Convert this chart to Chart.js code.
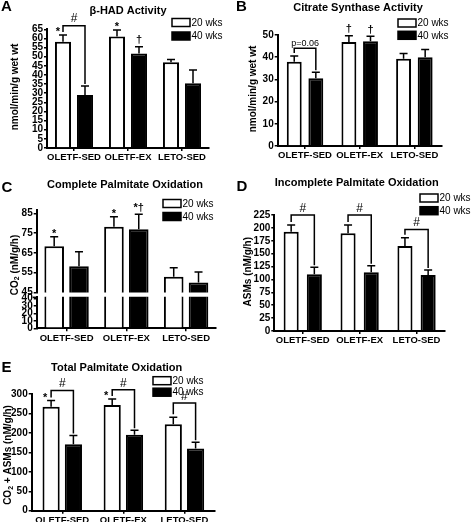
<!DOCTYPE html>
<html lang="en">
<head>
  <meta charset="UTF-8">
  <title>Palmitate oxidation and enzyme activity</title>
  <script src="https://cdn.jsdelivr.net/npm/chart.js@4"></script>
  <style>
    html, body { margin: 0; padding: 0; background: #fff; }
    #fig { position: relative; width: 471px; height: 522px; overflow: hidden; background: #fff; }
    #fig canvas { position: absolute; }
  </style>
</head>
<body>
<div id="fig">
  <canvas id="chartA" width="235" height="175" style="left:0px;top:0px"></canvas>
  <canvas id="chartB" width="236" height="175" style="left:235px;top:0px"></canvas>
  <canvas id="chartC" width="235" height="180" style="left:0px;top:175px"></canvas>
  <canvas id="chartC2" width="235" height="60" style="left:0px;top:285px"></canvas>
  <canvas id="chartD" width="236" height="180" style="left:235px;top:175px"></canvas>
  <canvas id="chartE" width="235" height="167" style="left:0px;top:355px"></canvas>
</div>

<script>
  const categories = ['OLETF-SED', 'OLETF-EX', 'LETO-SED'];
  const seriesNames = ['20 wks', '40 wks'];

  // A - beta-HAD activity (nmol/min/g wet wt), mean and SEM
  const hadMean20 = [58.2, 61, 47];
  const hadSem20 = [3.7, 3.6, 1.5];
  const hadMean40 = [29, 51.8, 35.4];
  const hadSem40 = [5, 3.7, 7.3];
  const hadTicks = [0, 5, 10, 15, 20, 25, 30, 35, 40, 45, 50, 55, 60, 65];

  // B - citrate synthase activity
  const csMean20 = [38, 46.8, 39.3];
  const csSem20 = [2.5, 2.9, 2.4];
  const csMean40 = [30.5, 47.2, 40];
  const csSem40 = [2.7, 2.2, 3.5];
  const csTicks = [0, 10, 20, 30, 40, 50];

  // C - complete palmitate oxidation, CO2 (nM/g/h), broken axis
  const co2Mean20 = [68.4, 78.2, 52.9];
  const co2Sem20 = [4.8, 5.1, 4.6];
  const co2Mean40 = [58.3, 76.9, 50];
  const co2Sem40 = [7.3, 7.6, 5.4];
  const co2TicksUpper = [45, 55, 65, 75, 85];
  const co2TicksLower = [0, 10, 20, 30, 40];

  // D - incomplete palmitate oxidation, ASMs (nM/g/h)
  const asmMean20 = [192.6, 189.5, 165];
  const asmSem20 = [13, 16, 16];
  const asmMean40 = [110, 114, 108.6];
  const asmSem40 = [13.5, 12.7, 9.7];
  const asmTicks = [0, 25, 50, 75, 100, 125, 150, 175, 200, 225];

  // E - total palmitate oxidation, CO2 + ASMs (nM/g/h)
  const totMean20 = [267, 272, 222];
  const totSem20 = [16, 15, 18];
  const totMean40 = [171, 195, 160];
  const totSem40 = [22, 12, 16];
  const totTicks = [0, 50, 100, 150, 200, 250, 300];

  const FONT = 'Liberation Sans, Arial, Helvetica, sans-serif';
  const extras = {};

  function drawYTitle(ctx, parts, x, y) {
    ctx.save();
    ctx.translate(x, y);
    ctx.rotate(-Math.PI / 2);
    ctx.textBaseline = 'middle';
    ctx.textAlign = 'left';
    let total = 0;
    parts.forEach(p => {
      ctx.font = 'bold ' + (p[1] ? 7 : 10) + 'px ' + FONT;
      total += ctx.measureText(p[0]).width;
    });
    let cx = -total / 2;
    parts.forEach(p => {
      ctx.font = 'bold ' + (p[1] ? 7 : 10) + 'px ' + FONT;
      ctx.fillText(p[0], cx, p[1] ? 2.5 : 0);
      cx += ctx.measureText(p[0]).width;
    });
    ctx.restore();
  }

  const extrasPlugin = {
    id: 'extras',
    afterDatasetsDraw(chart) {
      const ex = extras[chart.canvas.id];
      if (!ex.sem) return;
      const ctx = chart.ctx, y = chart.scales.y;
      ctx.save();
      ctx.strokeStyle = '#000';
      ctx.lineWidth = 1.5;
      ex.sem.forEach((sem, i) => {
        const means = chart.data.datasets[i].data;
        chart.getDatasetMeta(i).data.forEach((bar, j) => {
          const top = y.getPixelForValue(means[j] + sem[j]);
          ctx.beginPath();
          ctx.moveTo(bar.x, bar.y);
          ctx.lineTo(bar.x, top);
          ctx.moveTo(bar.x - 4, top);
          ctx.lineTo(bar.x + 4, top);
          ctx.stroke();
        });
      });
      ctx.restore();
    },
    afterDraw(chart) {
      const ex = extras[chart.canvas.id];
      const ctx = chart.ctx, y = chart.scales.y;
      ctx.save();
      ctx.fillStyle = '#000';
      ctx.strokeStyle = '#000';

      if (ex.title) {
        ctx.font = 'bold 11px ' + FONT;
        ctx.textAlign = 'center';
        ctx.textBaseline = 'middle';
        ctx.fillText(ex.title, ex.titlePos[0], ex.titlePos[1]);
      }
      if (ex.letter) {
        ctx.font = 'bold 15px ' + FONT;
        ctx.textAlign = 'left';
        ctx.textBaseline = 'middle';
        ctx.fillText(ex.letter, ex.letterPos[0], ex.letterPos[1]);
      }
      if (ex.yTitle) {
        drawYTitle(ctx, ex.yTitle, ex.yTitlePos[0], ex.yTitlePos[1]);
      }
      if (ex.legendPos) {
        const [lx, ly, gap] = ex.legendPos;
        chart.data.datasets.forEach((ds, i) => {
          const by = ly + i * gap;
          ctx.fillStyle = ds.backgroundColor;
          ctx.fillRect(lx, by, 18, 8);
          ctx.lineWidth = 1.5;
          ctx.strokeRect(lx, by, 18, 8);
          ctx.fillStyle = '#000';
          ctx.font = '10px ' + FONT;
          ctx.textAlign = 'left';
          ctx.textBaseline = 'middle';
          ctx.fillText(ds.label, lx + 19.5, by + 4.5);
        });
      }

      const errTop = (i, j) => {
        const d = chart.data.datasets[i].data[j];
        return y.getPixelForValue(d + ex.sem[i][j]);
      };

      (ex.brackets || []).forEach(b => {
        const x1 = chart.getDatasetMeta(0).data[b.cat].x;
        const x2 = chart.getDatasetMeta(1).data[b.cat].x;
        const yt = y.getPixelForValue(b.top);
        ctx.lineWidth = 1.5;
        ctx.beginPath();
        ctx.moveTo(x1, errTop(0, b.cat) - 3);
        ctx.lineTo(x1, yt);
        ctx.lineTo(x2, yt);
        ctx.lineTo(x2, errTop(1, b.cat) - 2);
        ctx.stroke();
        ctx.font = (b.size || 12) + 'px ' + FONT;
        ctx.textAlign = 'center';
        ctx.textBaseline = 'bottom';
        ctx.fillText(b.text, (x1 + x2) / 2, yt - 0.5);
      });

      (ex.marks || []).forEach(m => {
        const bar = chart.getDatasetMeta(m.series).data[m.cat];
        const base = errTop(m.series, m.cat);
        ctx.font = 'bold 11px ' + FONT;
        ctx.textAlign = 'center';
        ctx.textBaseline = 'alphabetic';
        ctx.fillText(m.text, bar.x + (m.dx || 0), base - (m.text.indexOf('†') >= 0 ? 3.5 : 0));
      });

      if (ex.breakCap) {
        const a = chart.chartArea;
        ctx.lineWidth = 1.5;
        ctx.beginPath();
        ctx.moveTo(a.left - 4, a.top + 0.5);
        ctx.lineTo(a.left + 1, a.top + 0.5);
        ctx.stroke();
      }
      ctx.restore();
    }
  };

  function makeChart(id, cfg) {
    extras[id] = cfg;
    const tickFont = { family: FONT, size: 10, weight: 'bold' };
    return new Chart(document.getElementById(id), {
      type: 'bar',
      data: {
        labels: categories,
        datasets: [
          { label: seriesNames[0], data: cfg.mean20, backgroundColor: '#fff', borderColor: '#000', borderWidth: 2, clip: 0 },
          { label: seriesNames[1], data: cfg.mean40, backgroundColor: '#000', borderColor: '#000', borderWidth: 2, clip: 0 }
        ]
      },
      options: {
        responsive: false,
        animation: false,
        events: [],
        datasets: { bar: { categoryPercentage: cfg.catPct, barPercentage: cfg.barPct } },
        layout: { padding: { left: 0, top: cfg.pad[0], right: cfg.pad[1], bottom: cfg.pad[2] } },
        plugins: { legend: { display: false }, tooltip: { enabled: false }, title: { display: false } },
        scales: {
          x: {
            display: cfg.showX,
            grid: { offset: false, drawOnChartArea: false, color: '#000', lineWidth: 1.5, tickLength: 3 },
            border: { color: '#000', width: 2 },
            ticks: { color: '#000', font: { family: FONT, size: 9.5, weight: 'bold' }, padding: 1, maxRotation: 0, autoSkip: false },
            afterFit: s => { s.height = cfg.xHeight; }
          },
          y: {
            min: cfg.min,
            max: cfg.max,
            grid: { drawOnChartArea: false, color: '#000', lineWidth: 1.5, tickLength: 3 },
            border: { color: '#000', width: 2 },
            ticks: { color: '#000', font: tickFont, padding: 1, autoSkip: false },
            afterBuildTicks: s => { s.ticks = cfg.ticks.map(v => ({ value: v })); },
            afterFit: s => { s.width = cfg.yWidth; }
          }
        }
      },
      plugins: [extrasPlugin]
    });
  }

  makeChart('chartA', {
    mean20: hadMean20, mean40: hadMean40, sem: [hadSem20, hadSem40],
    min: 0, max: 65, ticks: hadTicks,
    yWidth: 47, pad: [29.3, 26, 0], xHeight: 27, showX: true,
    catPct: 0.815, barPct: 0.73,
    title: 'β-HAD Activity', titlePos: [128, 11],
    letter: 'A', letterPos: [1, 7],
    yTitle: [['nmol/min/g wet wt', false]], yTitlePos: [15, 87],
    legendPos: [172, 18.5, 13.5],
    brackets: [{ cat: 0, top: 67, text: '#' }],
    marks: [{ series: 0, cat: 0, text: '*', dx: -5 }, { series: 0, cat: 1, text: '*' }, { series: 1, cat: 1, text: '†' }]
  });

  makeChart('chartB', {
    mean20: csMean20, mean40: csMean40, sem: [csSem20, csSem40],
    min: 0, max: 50, ticks: csTicks,
    yWidth: 42.7, pad: [35, 29.3, 0], xHeight: 29, showX: true,
    catPct: 0.79, barPct: 0.69,
    title: 'Citrate Synthase Activity', titlePos: [123, 7.5],
    letter: 'B', letterPos: [1, 7],
    yTitle: [['nmol/min/g wet wt', false]], yTitlePos: [18.3, 89],
    legendPos: [163, 19, 12.3],
    brackets: [{ cat: 0, top: 44, text: 'p=0.06', size: 9 }],
    marks: [{ series: 0, cat: 1, text: '†' }, { series: 1, cat: 1, text: '†' }]
  });

  makeChart('chartC', {
    mean20: co2Mean20, mean40: co2Mean40, sem: [co2Sem20, co2Sem40],
    min: 45, max: 86.5, ticks: co2TicksUpper,
    yWidth: 36.7, pad: [35.3, 19, 62.5], xHeight: 0, showX: false,
    catPct: 0.83, barPct: 0.79,
    title: 'Complete Palmitate Oxidation', titlePos: [125, 10],
    letter: 'C', letterPos: [1.5, 13],
    yTitle: [['CO', false], ['2', true], [' (nM/g/h)', false]], yTitlePos: [15, 90],
    legendPos: [163, 24.5, 13],
    marks: [{ series: 0, cat: 0, text: '*' }, { series: 0, cat: 1, text: '*' }, { series: 1, cat: 1, text: '*†' }]
  });

  makeChart('chartC2', {
    mean20: co2Mean20, mean40: co2Mean40,
    min: 0, max: 42, ticks: co2TicksLower,
    yWidth: 36.7, pad: [11.8, 19, 0], xHeight: 16.7, showX: true,
    catPct: 0.83, barPct: 0.79,
    breakCap: true
  });

  makeChart('chartD', {
    mean20: asmMean20, mean40: asmMean40, sem: [asmSem20, asmSem40],
    min: 0, max: 225, ticks: asmTicks,
    yWidth: 39.3, pad: [40, 26, 0], xHeight: 24, showX: true,
    catPct: 0.815, barPct: 0.65,
    title: 'Incomplete Palmitate Oxidation', titlePos: [121.7, 8.3],
    letter: 'D', letterPos: [1.5, 11.5],
    yTitle: [['ASMs (nM/g/h)', false]], yTitlePos: [13.3, 96.7],
    legendPos: [185, 19, 12.7],
    brackets: [{ cat: 0, top: 225, text: '#' }, { cat: 1, top: 225, text: '#' }, { cat: 2, top: 197, text: '#' }]
  });

  makeChart('chartE', {
    mean20: totMean20, mean40: totMean40, sem: [totSem20, totSem40],
    min: 0, max: 300, ticks: totTicks,
    yWidth: 31.7, pad: [39, 20, 0], xHeight: 11.3, showX: true,
    catPct: 0.73, barPct: 0.77,
    title: 'Total Palmitate Oxidation', titlePos: [116.7, 13.3],
    letter: 'E', letterPos: [1.5, 13.3],
    yTitle: [['CO', false], ['2', true], [' + ASMs (nM/g/h)', false]], yTitlePos: [8.3, 100],
    legendPos: [153, 21.7, 11.5],
    brackets: [{ cat: 0, top: 309, text: '#' }, { cat: 1, top: 311, text: '#' }, { cat: 2, top: 277, text: '#' }],
    marks: [{ series: 0, cat: 0, text: '*', dx: -6 }, { series: 0, cat: 1, text: '*', dx: -6 }]
  });
</script>
</body>
</html>
